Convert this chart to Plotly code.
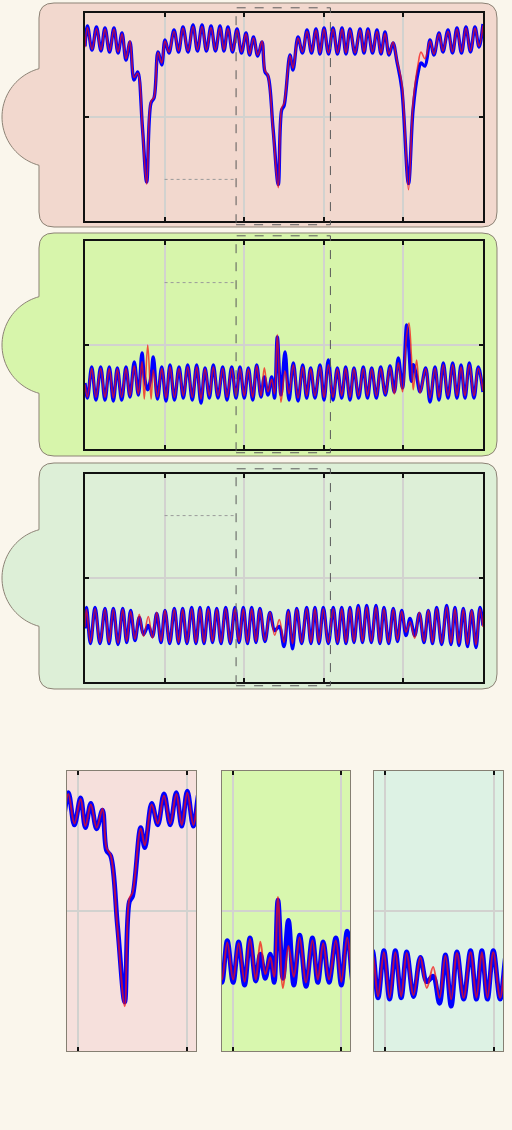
import math
import plotly.graph_objects as go

W, H = 512, 1130

# ---------------- data (time in s, amplitude in a.u.) ----------------
X_RANGE = [0, 5]
Y_RANGE = [-1, 1]
X_GRID = [1, 2, 3, 4]
ZOOM_RANGE = [1.898, 3.083]
ZOOM_GRID = [2, 3]
Y_GRID = [0]
GUIDE_X = [1.0, 1.898]
GUIDE_LEVELS = [-0.6, 0.6, 0.6]

P1_T = [0.000, 0.031, 0.088, 0.144, 0.201, 0.251, 0.308, 0.364, 0.415, 0.465,
        0.515, 0.565, 0.616, 0.662, 0.722, 0.775, 0.829, 0.867, 0.917, 0.964,
        1.005, 1.055, 1.118, 1.175, 1.231, 1.294, 1.357, 1.413, 1.470, 1.526,
        1.583, 1.639, 1.696, 1.746, 1.796, 1.853, 1.910, 1.966, 2.023, 2.067,
        2.117, 2.170, 2.224, 2.261, 2.299, 2.362, 2.428, 2.471, 2.500, 2.575,
        2.613, 2.676, 2.732, 2.789, 2.846, 2.902, 2.952, 3.003, 3.059, 3.116,
        3.172, 3.229, 3.279, 3.329, 3.392, 3.455, 3.505, 3.555, 3.612, 3.668,
        3.719, 3.769, 3.819, 3.869, 3.920, 3.979, 4.064, 4.121, 4.183, 4.221,
        4.271, 4.334, 4.384, 4.447, 4.497, 4.560, 4.617, 4.673, 4.730, 4.786,
        4.843, 4.899, 4.950, 5.000]
P1_BLUE = [0.68, 0.875, 0.644, 0.865, 0.635, 0.856, 0.625, 0.856, 0.615, 0.808,
           0.548, 0.721, 0.356, 0.433, -0.106, -0.625, 0.135, 0.183, 0.625, 0.5,
           0.74, 0.615, 0.837, 0.625, 0.865, 0.625, 0.885, 0.635, 0.885, 0.635,
           0.875, 0.635, 0.875, 0.635, 0.865, 0.625, 0.846, 0.615, 0.808, 0.596,
           0.769, 0.587, 0.721, 0.433, 0.394, -0.106, -0.65, 0.067, 0.106, 0.596,
           0.452, 0.769, 0.615, 0.837, 0.615, 0.846, 0.606, 0.856, 0.606, 0.856,
           0.606, 0.856, 0.606, 0.846, 0.606, 0.846, 0.615, 0.846, 0.615, 0.837,
           0.606, 0.817, 0.596, 0.712, 0.529, 0.279, -0.64, 0.067, 0.423, 0.519,
           0.49, 0.74, 0.596, 0.808, 0.625, 0.837, 0.615, 0.856, 0.615, 0.865,
           0.625, 0.865, 0.673, 0.894]
P1_RED = [0.67, 0.86, 0.65, 0.85, 0.645, 0.845, 0.635, 0.845, 0.625, 0.80,
          0.56, 0.73, 0.38, 0.42, -0.12, -0.645, 0.15, 0.19, 0.62, 0.52,
          0.73, 0.625, 0.825, 0.635, 0.855, 0.635, 0.87, 0.645, 0.87, 0.645,
          0.86, 0.645, 0.86, 0.645, 0.85, 0.635, 0.835, 0.625, 0.80, 0.605,
          0.76, 0.595, 0.73, 0.45, 0.40, -0.13, -0.68, 0.09, 0.13, 0.59,
          0.47, 0.76, 0.625, 0.825, 0.625, 0.835, 0.615, 0.845, 0.615, 0.845,
          0.615, 0.845, 0.615, 0.835, 0.615, 0.835, 0.625, 0.835, 0.625, 0.825,
          0.615, 0.805, 0.605, 0.72, 0.54, 0.33, -0.70, 0.135, 0.50, 0.625,
          0.56, 0.73, 0.605, 0.80, 0.635, 0.825, 0.625, 0.845, 0.625, 0.855,
          0.635, 0.855, 0.68, 0.88]

P2_T = [0.000, 0.031, 0.084, 0.138, 0.197, 0.251, 0.305, 0.356, 0.406, 0.461,
        0.515, 0.565, 0.619, 0.670, 0.716, 0.745, 0.788, 0.830, 0.858, 0.911,
        0.964, 1.018, 1.068, 1.124, 1.181, 1.235, 1.290, 1.348, 1.403, 1.457,
        1.508, 1.562, 1.612, 1.671, 1.730, 1.784, 1.843, 1.897, 1.947, 2.001,
        2.052, 2.107, 2.157, 2.211, 2.253, 2.299, 2.345, 2.381, 2.416, 2.462,
        2.513, 2.563, 2.617, 2.676, 2.735, 2.785, 2.835, 2.889, 2.952, 3.003,
        3.057, 3.116, 3.170, 3.225, 3.275, 3.329, 3.379, 3.438, 3.496, 3.549,
        3.602, 3.660, 3.715, 3.773, 3.832, 3.886, 3.936, 3.989, 4.041, 4.070,
        4.100, 4.124, 4.166, 4.209, 4.280, 4.334, 4.397, 4.447, 4.501, 4.560,
        4.619, 4.673, 4.724, 4.774, 4.828, 4.887, 4.941, 5.000]
P2_BLUE = [-0.365, -0.51, -0.212, -0.529, -0.212, -0.529, -0.212, -0.538, -0.221, -0.529,
           -0.212, -0.50, -0.163, -0.481, -0.077, -0.30, -0.43, -0.30, -0.115, -0.519,
           -0.212, -0.538, -0.192, -0.529, -0.212, -0.51, -0.192, -0.529, -0.192, -0.558,
           -0.221, -0.51, -0.192, -0.51, -0.212, -0.529, -0.212, -0.51, -0.212, -0.51,
           -0.221, -0.529, -0.192, -0.50, -0.308, -0.481, -0.308, -0.51, 0.077, -0.481,
           -0.067, -0.529, -0.173, -0.538, -0.192, -0.51, -0.221, -0.51, -0.192, -0.529,
           -0.144, -0.529, -0.221, -0.51, -0.212, -0.529, -0.221, -0.51, -0.212, -0.51,
           -0.221, -0.51, -0.212, -0.481, -0.202, -0.452, -0.125, -0.413, 0.192, -0.05,
           -0.35, -0.19, -0.30, -0.45, -0.221, -0.548, -0.212, -0.529, -0.173, -0.51,
           -0.173, -0.51, -0.192, -0.51, -0.173, -0.51, -0.212, -0.452]
P2_RED = [-0.38, -0.50, -0.225, -0.505, -0.225, -0.505, -0.225, -0.51, -0.23, -0.505,
          -0.225, -0.49, -0.20, -0.47, -0.16, -0.52, 0.0, -0.52, -0.24, -0.50,
          -0.225, -0.51, -0.21, -0.505, -0.225, -0.49, -0.21, -0.505, -0.21, -0.52,
          -0.23, -0.49, -0.21, -0.49, -0.225, -0.505, -0.225, -0.49, -0.225, -0.49,
          -0.23, -0.505, -0.20, -0.49, -0.22, -0.45, -0.33, -0.47, 0.10, -0.55,
          -0.25, -0.47, -0.19, -0.51, -0.21, -0.49, -0.23, -0.49, -0.21, -0.505,
          -0.19, -0.505, -0.23, -0.49, -0.225, -0.505, -0.23, -0.49, -0.225, -0.49,
          -0.23, -0.49, -0.225, -0.47, -0.215, -0.47, -0.17, -0.45, 0.10, 0.21,
          -0.10, -0.43, -0.144, -0.46, -0.23, -0.51, -0.225, -0.505, -0.19, -0.49,
          -0.19, -0.49, -0.21, -0.49, -0.19, -0.49, -0.225, -0.44]

P3_T = [0.000, 0.019, 0.069, 0.126, 0.188, 0.251, 0.302, 0.356, 0.415, 0.474,
        0.524, 0.574, 0.628, 0.682, 0.735, 0.795, 0.848, 0.901, 0.955, 1.005,
        1.064, 1.122, 1.175, 1.227, 1.281, 1.340, 1.394, 1.445, 1.495, 1.549,
        1.602, 1.655, 1.709, 1.768, 1.825, 1.884, 1.935, 1.989, 2.041, 2.094,
        2.148, 2.198, 2.261, 2.324, 2.383, 2.441, 2.500, 2.554, 2.607, 2.660,
        2.722, 2.785, 2.839, 2.889, 2.940, 2.994, 3.057, 3.119, 3.172, 3.225,
        3.279, 3.329, 3.379, 3.433, 3.486, 3.539, 3.597, 3.656, 3.706, 3.756,
        3.815, 3.873, 3.926, 3.979, 4.033, 4.083, 4.142, 4.200, 4.259, 4.313,
        4.366, 4.418, 4.481, 4.544, 4.598, 4.648, 4.698, 4.753, 4.805, 4.858,
        4.912, 4.962, 5.000]
P3_BLUE = [-0.486, -0.284, -0.63, -0.284, -0.63, -0.293, -0.63, -0.293, -0.639, -0.293,
           -0.62, -0.313, -0.601, -0.38, -0.543, -0.457, -0.563, -0.341, -0.62, -0.313,
           -0.63, -0.293, -0.63, -0.293, -0.63, -0.284, -0.63, -0.284, -0.63, -0.284,
           -0.62, -0.293, -0.63, -0.284, -0.63, -0.284, -0.62, -0.284, -0.63, -0.284,
           -0.62, -0.293, -0.611, -0.332, -0.505, -0.466, -0.659, -0.313, -0.68, -0.293,
           -0.63, -0.284, -0.63, -0.284, -0.63, -0.284, -0.63, -0.284, -0.63, -0.284,
           -0.63, -0.284, -0.62, -0.264, -0.62, -0.264, -0.62, -0.264, -0.63, -0.284,
           -0.63, -0.293, -0.611, -0.313, -0.553, -0.389, -0.553, -0.341, -0.62, -0.313,
           -0.63, -0.284, -0.639, -0.264, -0.639, -0.284, -0.649, -0.293, -0.659, -0.313,
           -0.668, -0.284, -0.457]
P3_RED = [-0.47, -0.30, -0.62, -0.295, -0.62, -0.30, -0.62, -0.30, -0.625, -0.30,
          -0.61, -0.32, -0.59, -0.35, -0.56, -0.37, -0.58, -0.33, -0.61, -0.31,
          -0.62, -0.30, -0.62, -0.30, -0.62, -0.295, -0.62, -0.295, -0.62, -0.295,
          -0.61, -0.30, -0.62, -0.295, -0.62, -0.295, -0.61, -0.295, -0.62, -0.295,
          -0.61, -0.30, -0.60, -0.33, -0.55, -0.40, -0.62, -0.32, -0.63, -0.30,
          -0.62, -0.295, -0.62, -0.295, -0.62, -0.295, -0.62, -0.295, -0.62, -0.295,
          -0.62, -0.295, -0.61, -0.28, -0.61, -0.28, -0.61, -0.28, -0.62, -0.295,
          -0.62, -0.30, -0.60, -0.32, -0.52, -0.42, -0.58, -0.33, -0.61, -0.31,
          -0.62, -0.295, -0.625, -0.28, -0.625, -0.295, -0.63, -0.30, -0.64, -0.31,
          -0.645, -0.295, -0.47]

SERIES = [(P1_T, P1_BLUE, P1_RED), (P2_T, P2_BLUE, P2_RED), (P3_T, P3_BLUE, P3_RED)]

# ---------------- styling / layout geometry (pixels) ----------------
PAGE_BG = "#FAF6EC"
PANEL_FILLS = ["#F2D8CE", "#D7F5AB", "#DDEFD7"]
ZOOM_FILLS = ["#F6E0DC", "#D8F7AE", "#DDF2E4"]
OUTLINE = "#8C8275"
GRID = "#D2D2CF"
BLUE = "#0000FF"
RED = "rgba(245,15,15,0.72)"

TOP_X = (85, 483)
TOP_Y = [(13, 221), (241, 449), (474, 682)]
OUTER_X = (39, 497)
OUTER_Y = [(3, 227), (233, 456), (463, 689)]
BOT_X = [(67, 196), (222, 350), (374, 503)]
BOT_Y = (771, 1051)


def X(p):
    return p / W


def Y(p):
    return 1 - p / H


def panel_path(left, right, top, bottom, mid, r=15, bump_r=50, bump_cx=52):
    half = math.sqrt(bump_r ** 2 - (bump_cx - left) ** 2)
    f = lambda a, b: f"{X(a):.5f},{Y(b):.5f}"
    d = (f"M {f(left + r, top)} L {f(right - r, top)} Q {f(right, top)} {f(right, top + r)} "
         f"L {f(right, bottom - r)} Q {f(right, bottom)} {f(right - r, bottom)} "
         f"L {f(left + r, bottom)} Q {f(left, bottom)} {f(left, bottom - r)} "
         f"L {f(left, mid + half)}")
    a0 = math.atan2(half, left - bump_cx)
    a1 = 2 * math.pi - a0
    n = 48
    for k in range(1, n):
        a = a0 + (a1 - a0) * k / n
        d += f" L {f(bump_cx + bump_r * math.cos(a), mid + bump_r * math.sin(a))}"
    d += f" L {f(left, mid - half)} L {f(left, top + r)} Q {f(left, top)} {f(left + r, top)} Z"
    return d


fig = go.Figure()
shapes = []
layout_axes = {}

for i in range(3):
    n = i + 1
    xa = "x" if n == 1 else f"x{n}"
    ya = "y" if n == 1 else f"y{n}"
    t, b, r = SERIES[i]
    # top panel traces
    fig.add_trace(go.Scatter(x=t, y=b, mode="lines", xaxis=xa, yaxis=ya,
                             line=dict(color=BLUE, width=3.4, shape="spline", smoothing=1.0),
                             hoverinfo="skip"))
    fig.add_trace(go.Scatter(x=t, y=r, mode="lines", xaxis=xa, yaxis=ya,
                             line=dict(color=RED, width=1.6, shape="spline", smoothing=1.0),
                             hoverinfo="skip"))
    ytop, ybot = TOP_Y[i]
    layout_axes["xaxis" if n == 1 else f"xaxis{n}"] = dict(
        domain=[X(TOP_X[0]), X(TOP_X[1])], anchor=ya, range=X_RANGE,
        tickvals=X_GRID, showticklabels=False, ticks="inside", ticklen=4, tickwidth=2,
        tickcolor="#111111", showgrid=True, gridcolor=GRID, gridwidth=2, zeroline=False,
        showline=True, linecolor="#111111", linewidth=2, mirror="ticks", fixedrange=True)
    layout_axes["yaxis" if n == 1 else f"yaxis{n}"] = dict(
        domain=[Y(ybot), Y(ytop)], anchor=xa, range=Y_RANGE,
        tickvals=Y_GRID, showticklabels=False, ticks="inside", ticklen=4, tickwidth=2,
        tickcolor="#111111", showgrid=True, gridcolor=GRID, gridwidth=2, zeroline=False,
        showline=True, linecolor="#111111", linewidth=2, mirror="ticks", fixedrange=True)

    # panel background with bump
    oy0, oy1 = OUTER_Y[i]
    mid = (ytop + ybot) / 2
    shapes.append(dict(type="path", xref="paper", yref="paper",
                       path=panel_path(OUTER_X[0], OUTER_X[1], oy0, oy1, mid),
                       fillcolor=PANEL_FILLS[i], line=dict(color=OUTLINE, width=1),
                       layer="below"))
    # dashed zoom window
    fx0 = (ZOOM_RANGE[0] - X_RANGE[0]) / (X_RANGE[1] - X_RANGE[0])
    fx1 = (ZOOM_RANGE[1] - X_RANGE[0]) / (X_RANGE[1] - X_RANGE[0])
    shapes.append(dict(type="rect", xref=f"{xa} domain", yref=f"{ya} domain",
                       x0=fx0, x1=fx1, y0=-0.018, y1=1.025,
                       line=dict(color="#5a5a5a", width=1, dash="dash"),
                       fillcolor="rgba(0,0,0,0)", layer="above"))
    # dotted guide
    shapes.append(dict(type="line", xref=xa, yref=ya, x0=GUIDE_X[0], x1=GUIDE_X[1],
                       y0=GUIDE_LEVELS[i], y1=GUIDE_LEVELS[i],
                       line=dict(color="#9a9a9a", width=1, dash="dot"), layer="above"))

    # bottom zoom panels
    m = i + 4
    xb, yb = f"x{m}", f"y{m}"
    fig.add_trace(go.Scatter(x=t, y=b, mode="lines", xaxis=xb, yaxis=yb,
                             line=dict(color=BLUE, width=4.8, shape="spline", smoothing=1.0),
                             hoverinfo="skip"))
    fig.add_trace(go.Scatter(x=t, y=r, mode="lines", xaxis=xb, yaxis=yb,
                             line=dict(color=RED, width=2, shape="spline", smoothing=1.0),
                             hoverinfo="skip"))
    layout_axes[f"xaxis{m}"] = dict(
        domain=[X(BOT_X[i][0]), X(BOT_X[i][1])], anchor=yb, range=ZOOM_RANGE,
        tickvals=ZOOM_GRID, showticklabels=False, ticks="inside", ticklen=4, tickwidth=2,
        tickcolor="#111111", showgrid=True, gridcolor=GRID, gridwidth=2, zeroline=False,
        showline=True, linecolor="#857f72", linewidth=1, mirror="ticks", fixedrange=True)
    layout_axes[f"yaxis{m}"] = dict(
        domain=[Y(BOT_Y[1]), Y(BOT_Y[0])], anchor=xb, range=Y_RANGE,
        tickvals=Y_GRID, showticklabels=False, ticks="", showgrid=True, gridcolor=GRID,
        gridwidth=2, zeroline=False, showline=True, linecolor="#857f72", linewidth=1,
        mirror=True, fixedrange=True)
    shapes.append(dict(type="rect", xref=f"{xb} domain", yref=f"{yb} domain",
                       x0=0, x1=1, y0=0, y1=1, fillcolor=ZOOM_FILLS[i],
                       line=dict(width=0), layer="below"))

fig.update_layout(
    width=W, height=H, autosize=False,
    margin=dict(l=0, r=0, t=0, b=0, pad=0),
    paper_bgcolor=PAGE_BG, plot_bgcolor="rgba(0,0,0,0)",
    showlegend=False, shapes=shapes, **layout_axes)

fig.write_html("out.html", include_plotlyjs=True, full_html=True,
               config={"displayModeBar": False, "staticPlot": True},
               post_script="document.body.style.margin='0';")
